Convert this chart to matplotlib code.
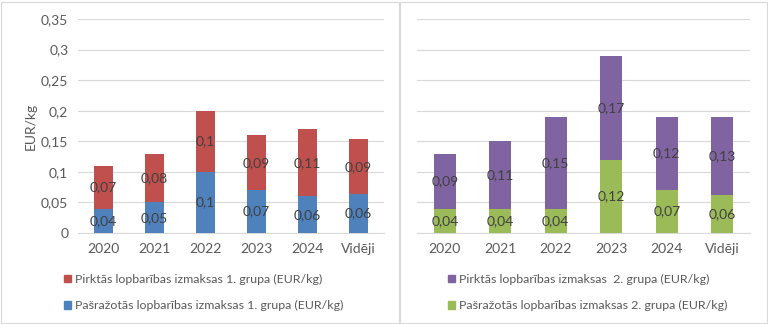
import matplotlib
matplotlib.use("Agg")
import matplotlib.pyplot as plt
from matplotlib.patches import Rectangle, Patch

categories = ["2020", "2021", "2022", "2023", "2024", "Vidēji"]
g1_own = [0.04, 0.05, 0.10, 0.07, 0.06, 0.064]
g1_bought = [0.07, 0.08, 0.10, 0.09, 0.11, 0.089]
g2_own = [0.04, 0.04, 0.04, 0.12, 0.07, 0.062]
g2_bought = [0.09, 0.11, 0.15, 0.17, 0.12, 0.128]
yticks = [0, 0.05, 0.1, 0.15, 0.2, 0.25, 0.3, 0.35]

labels_left = ["Pirktās lopbarības izmaksas 1. grupa (EUR/kg)",
               "Pašražotās lopbarības izmaksas 1. grupa (EUR/kg)"]
labels_right = ["Pirktās lopbarības izmaksas  2. grupa (EUR/kg)",
                "Pašražotās lopbarības izmaksas 2. grupa (EUR/kg)"]

plt.rcParams['font.family'] = ['Lato', 'DejaVu Sans']
TXT = "#595959"
LBL = "#404040"
FS = 10
LFS = 8.9

def fmt(v):
    s = f"{v:.2f}".rstrip('0').rstrip('.')
    return s.replace('.', ',')

fig = plt.figure(figsize=(7.68, 3.24), dpi=100)
fig.patch.set_facecolor("white")

# panel borders
fig.add_artist(Rectangle((1/768, 1/324), 398/768, 321/324, transform=fig.transFigure,
                         fill=False, edgecolor="#D9D9D9", linewidth=0.8))
fig.add_artist(Rectangle((400/768, 1/324), 367/768, 321/324, transform=fig.transFigure,
                         fill=False, edgecolor="#D9D9D9", linewidth=0.8))

bottom = 1 - 233/324
height = 214/324
axL = fig.add_axes([78/768, bottom, 306/768, height])
axR = fig.add_axes([417/768, bottom, 333/768, height])

def draw(ax, own, bought, c_own, c_bought, labels, width, show_y):
    x = list(range(len(categories)))
    ax.bar(x, own, width=width, color=c_own, zorder=3)
    ax.bar(x, bought, width=width, bottom=own, color=c_bought, zorder=3)
    for i in x:
        ax.text(i, own[i] / 2, fmt(own[i]), ha='center', va='center',
                fontsize=FS, color=LBL, zorder=4)
        ax.text(i, own[i] + bought[i] / 2, fmt(bought[i]), ha='center', va='center',
                fontsize=FS, color=LBL, zorder=4)
    ax.set_xlim(-0.5, len(categories) - 0.5)
    ax.set_ylim(0, 0.35)
    ax.set_yticks(yticks)
    ax.yaxis.grid(True, color="#D9D9D9", linewidth=0.8, zorder=0)
    for s in ["top", "right", "left"]:
        ax.spines[s].set_visible(False)
    ax.spines["bottom"].set_color("#D9D9D9")
    ax.set_xticks(x)
    ax.set_xticklabels(categories, fontsize=FS, color=TXT)
    ax.tick_params(axis='both', length=0, pad=7)
    if show_y:
        ax.set_yticklabels([fmt(t) for t in yticks], fontsize=FS, color=TXT)
    else:
        ax.set_yticklabels([])
    handles = [Patch(color=c_bought), Patch(color=c_own)]
    leg = ax.legend(handles, labels, loc='upper left', frameon=False,
                    fontsize=LFS, handlelength=0.55,
                    handleheight=0.55, handletextpad=0.35, labelspacing=1.25,
                    borderaxespad=0)
    for t in leg.get_texts():
        t.set_color(TXT)
    return leg

legL = draw(axL, g1_own, g1_bought, "#4F81BD", "#C0504D", labels_left, 0.39, True)
legL.set_bbox_to_anchor((59/768, 1 - 269/324), transform=fig.transFigure)
legR = draw(axR, g2_own, g2_bought, "#9BBB59", "#8064A2", labels_right, 0.40, False)
legR.set_bbox_to_anchor((443/768, 1 - 269/324), transform=fig.transFigure)

axL.set_ylabel("EUR/kg", fontsize=FS, color=TXT, labelpad=3)

fig.savefig("out.png", dpi=100, facecolor="white")
